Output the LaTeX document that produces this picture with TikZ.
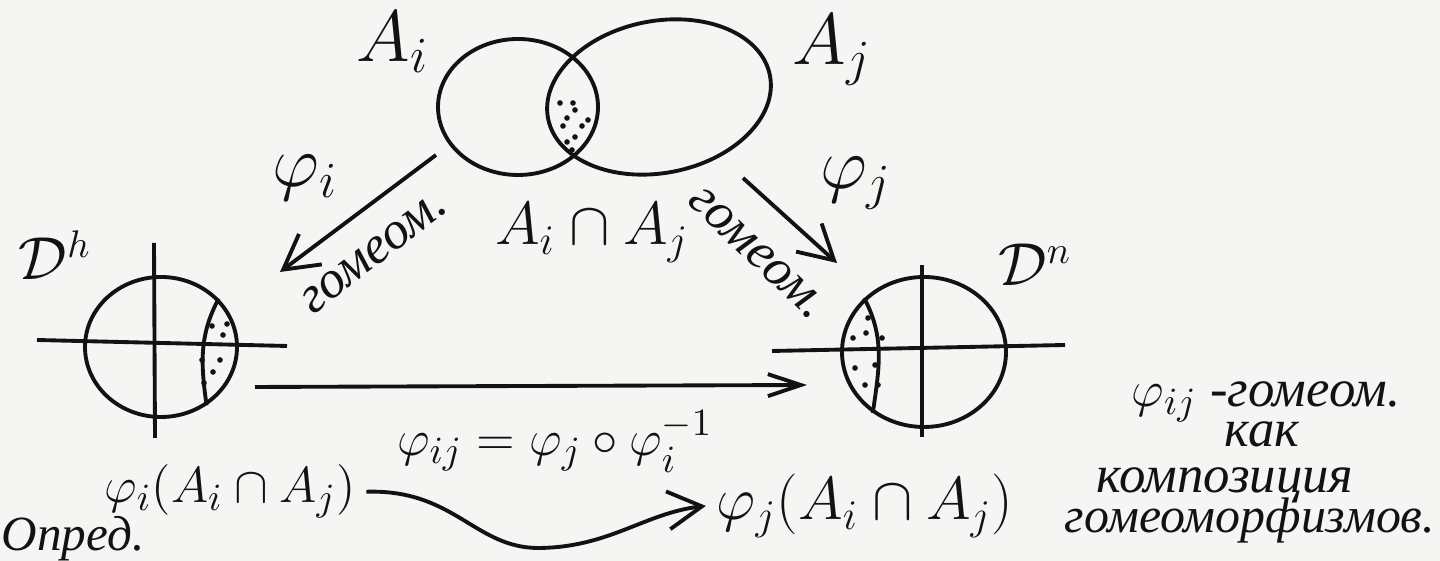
\documentclass[tikz,border=0pt]{standalone}
\usepackage{amsmath,amssymb}
\usepackage[no-math]{fontspec}
\usepackage{xcolor}
\usepackage{tikz}
\usetikzlibrary{arrows.meta,positioning,shapes.geometric,calc}
\newfontfamily\cyrfont{Liberation Serif}
\definecolor{paper}{RGB}{245,245,243}
\definecolor{ink}{RGB}{18,18,18}

\tikzset{
  pen/.style={draw=ink, line width=1.1pt},
  maparrow/.style={pen, -{Straight Barb[length=3.4mm,width=3.8mm]}},
  oval/.style={ellipse, pen, inner sep=0pt},
  lbl/.style={inner sep=0pt, anchor=base, text=ink},
  cyr/.style={inner sep=0pt, text=ink, font=\cyrfont\itshape\fontsize{15}{18}\selectfont},
  speck/.style={fill=ink}
}

\begin{document}
\begin{tikzpicture}
  % paper
  \fill[paper] (0,0) rectangle (14.4,5.61);
  \useasboundingbox (0,0) rectangle (14.4,5.61);

  % the two charts A_i, A_j
  \node[oval, minimum width=1.60cm, minimum height=1.36cm] (Ai) at (5.18,4.54) {};
  \node[oval, minimum width=2.26cm, minimum height=1.52cm, rotate=11] (Aj) at (6.59,4.64) {};
  % dots in the overlap
  \foreach \px/\py in {5.60/4.58,5.73/4.58,5.75/4.51,5.67/4.43,5.88/4.41,
                       5.63/4.35,5.82/4.35,5.75/4.24,5.67/4.19,5.72/4.11} {
    \fill[speck] (\px,\py) circle (0.8pt);
  }
  \node[lbl, font=\fontsize{20}{24}\selectfont] (labAi) at (3.93,4.99) {$A_i$};
  \node[lbl, font=\fontsize{20}{24}\selectfont] (labAj) at (8.32,4.96) {$A_j$};
  \node[lbl, font=\fontsize{18}{22}\selectfont] (cap) at (5.92,3.16) {$A_i\cap A_j$};

  % left disk D^h
  \node[oval, minimum width=1.52cm, minimum height=1.40cm] (diskL) at (1.61,2.14) {};
  \draw[pen] (0.37,2.21) -- (2.87,2.15);
  \draw[pen] (1.54,3.18) -- (1.55,1.23);
  \draw[pen] (diskL.40) to[out=-118,in=98] (diskL.-52);
  \foreach \px/\py in {2.12/2.35,2.27/2.37,2.23/2.26,2.02/2.01,2.20/2.01,2.13/1.89,2.04/1.78} {
    \fill[speck] (\px,\py) circle (0.8pt);
  }
  \node[lbl, font=\fontsize{16}{19}\selectfont] (DL) at (0.55,2.81) {$\mathcal{D}^h$};

  % right disk D^n
  \node[oval, minimum width=1.64cm, minimum height=1.50cm] (diskR) at (9.24,2.09) {};
  \draw[pen] (7.72,2.10) -- (10.65,2.16);
  \draw[pen] (9.22,2.96) -- (9.22,1.24);
  \draw[pen] (diskR.138) to[out=-62,in=82] (diskR.230);
  \foreach \px/\py in {8.68/2.43,8.66/2.28,8.53/2.23,8.82/2.23,8.55/1.93,8.75/1.96,8.65/1.76,8.78/1.76} {
    \fill[speck] (\px,\py) circle (0.8pt);
  }
  \node[lbl, font=\fontsize{16}{19}\selectfont] (DR) at (10.35,2.75) {$\mathcal{D}^n$};

  % maps
  \coordinate (ai-out) at (4.36,4.06);
  \coordinate (dl-in) at (2.80,2.89);
  \coordinate (aj-out) at (7.43,3.83);
  \coordinate (dr-in) at (8.37,2.98);
  \coordinate (dl-out) at (2.55,1.74);
  \coordinate (dr-long) at (8.07,1.76);
  \draw[maparrow] (ai-out) -- (dl-in);
  \draw[maparrow] (aj-out) -- (dr-in);
  \draw[pen, -{Straight Barb[length=3.3mm,width=2.2mm]}] (dl-out) -- (dr-long);
  \node[font=\fontsize{20}{24}\selectfont, text=ink, inner sep=0pt] (phiI) at (3.05,3.83) {$\varphi_i$};
  \node[font=\fontsize{20}{24}\selectfont, text=ink, inner sep=0pt] (phiJ) at (8.56,3.78) {$\varphi_j$};
  \node[cyr, rotate=37.6] (homL) at (3.74,3.08) {гомеом.};
  \node[cyr, rotate=-43.8] (homR) at (7.57,3.08) {гомеом.};

  % transition map
  \node[lbl, inner sep=1mm, font=\fontsize{15.5}{19}\selectfont] (setL) at (2.30,0.58) {$\varphi_i(A_i\cap A_j)$};
  \node[lbl, inner sep=1mm, font=\fontsize{18}{22}\selectfont] (setR) at (8.65,0.41) {$\varphi_j(A_i\cap A_j)$};
  \node[lbl, font=\fontsize{15}{18}\selectfont] (trans) at (5.55,1.05) {$\varphi_{ij}=\varphi_j\circ\varphi_i^{-1}$};
  \draw[maparrow] (setL.east) .. controls (4.55,0.72) and (4.75,0.12) .. (5.40,0.13)
    .. controls (6.10,0.14) and (6.45,0.48) .. (setR.west);

  % remark on the right
  \node[cyr, anchor=base] (note1) at (12.66,1.54) {$\varphi_{ij}$ -гомеом.};
  \node[cyr, anchor=base] (note2) at (12.62,1.14) {как};
  \node[cyr, anchor=base] (note3) at (12.25,0.68) {композиция};
  \node[cyr, anchor=base, font=\cyrfont\itshape\fontsize{14.2}{17}\selectfont] (note4) at (12.50,0.28) {гомеоморфизмов.};
  \node[cyr, anchor=base, font=\cyrfont\itshape\fontsize{14}{17}\selectfont] (defn) at (0.73,0.10) {Опред.};
\end{tikzpicture}
\end{document}
